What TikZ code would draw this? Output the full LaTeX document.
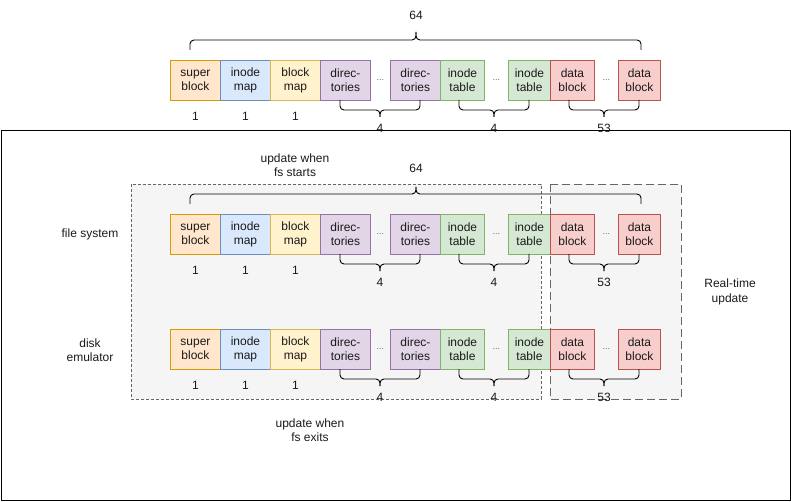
\documentclass[tikz,border=0pt]{standalone}
\usepackage{fontspec}
\setmainfont{Liberation Sans}
\usetikzlibrary{calc}
\begin{document}
\definecolor{orangeF}{HTML}{FFE6CC}\definecolor{orangeS}{HTML}{D79B00}
\definecolor{blueF}{HTML}{DAE8FC}\definecolor{blueS}{HTML}{6C8EBF}
\definecolor{yellowF}{HTML}{FFF2CC}\definecolor{yellowS}{HTML}{D6B656}
\definecolor{purpleF}{HTML}{E1D5E7}\definecolor{purpleS}{HTML}{9673A6}
\definecolor{greenF}{HTML}{D5E8D4}\definecolor{greenS}{HTML}{82B366}
\definecolor{redF}{HTML}{F8CECC}\definecolor{redS}{HTML}{B85450}
\definecolor{grayF}{HTML}{F5F5F5}\definecolor{grayS}{HTML}{666666}
\definecolor{textC}{HTML}{1A1A1A}
\newcommand{\hbrace}[6]{%
  \draw[brace line] (#1,#4) -- (#1,#5) -- (#3,#5) -- (#3,#6);
  \draw[brace line] (#2,#4) -- (#2,#5) -- (#3,#5) -- (#3,#6);}
\begin{tikzpicture}[x=1pt,y=-1pt,
  every node/.style={font=\fontsize{12}{14.5}\selectfont, text=textC},
  blk/.style={draw, line width=0.9pt, minimum height=40pt, inner sep=0pt,
    align=center, anchor=north west, font=\fontsize{12}{14.5}\selectfont},
  sb/.style={blk, fill=orangeF, draw=orangeS},
  im/.style={blk, fill=blueF, draw=blueS},
  bm/.style={blk, fill=yellowF, draw=yellowS},
  dr/.style={blk, fill=purpleF, draw=purpleS},
  it/.style={blk, fill=greenF, draw=greenS},
  db/.style={blk, fill=redF, draw=redS},
  dotsep/.style={text=grayS, font=\fontsize{9}{10}\selectfont},
  brace line/.style={draw=black, line width=0.9pt, rounded corners=4pt},
  lbl/.style={align=center},
  region/.style={fill=grayF, draw=grayS, line width=0.8pt}]
\useasboundingbox (0,0) rectangle (791,502);

% outer frame
\draw[line width=1pt] (1.5,130.5) rectangle (790,500);

% shaded regions
\draw[region, dash pattern=on 3pt off 2pt] (131,184) rectangle (541,399);
\draw[region, dash pattern=on 8pt off 4pt] (550,184) rectangle (681,399);

% one row of blocks: #1 = name prefix, #2 = top y
\newcommand{\blockrow}[2]{%
  \node[sb, minimum width=50pt] (#1sb) at (170,#2) {super\\block};
  \node[im, minimum width=50pt] (#1im) at (220,#2) {inode\\map};
  \node[bm, minimum width=50pt] (#1bm) at (270,#2) {block\\map};
  \node[dr, minimum width=50pt] (#1da) at (320,#2) {direc-\\tories};
  \node[dr, minimum width=50pt] (#1db) at (390,#2) {direc-\\tories};
  \node[it, minimum width=44pt] (#1ta) at (440,#2) {inode\\table};
  \node[it, minimum width=42pt] (#1tb) at (508,#2) {inode\\table};
  \node[db, minimum width=44pt] (#1xa) at (550,#2) {data\\block};
  \node[db, minimum width=42pt] (#1xb) at (618,#2) {data\\block};
  \node[dotsep] (#1d1) at ($(#1da.east)!0.5!(#1db.west)$) {...};
  \node[dotsep] (#1d2) at ($(#1ta.east)!0.5!(#1tb.west)$) {...};
  \node[dotsep] (#1d3) at ($(#1xa.east)!0.5!(#1xb.west)$) {...};
  \node (#1n1) at ($(#1sb.south)+(0,15)$) {1};
  \node (#1n2) at ($(#1im.south)+(0,15)$) {1};
  \node (#1n3) at ($(#1bm.south)+(0,15)$) {1};
  \hbrace{340}{420}{380}{#2+40}{#2+50}{#2+57}
  \hbrace{459}{529}{494}{#2+40}{#2+50}{#2+57}
  \hbrace{569}{639}{604}{#2+40}{#2+50}{#2+57}
  \node (#1c1) at (380,#2+68) {4};
  \node (#1c2) at (494,#2+68) {4};
  \node (#1c3) at (604,#2+68) {53};}

\blockrow{a}{60}
\blockrow{b}{214}
\blockrow{c}{329}

% whole-disk braces
\hbrace{190}{641}{416}{50}{40}{32}
\node (atot) at (416,15) {64};
\hbrace{190}{641}{416}{204}{194}{187}
\node (btot) at (416,168) {64};

% labels
\node[lbl] (fs) at (90,234) {file system};
\node[lbl] (emu) at (90,350) {disk\\emulator};
\node[lbl] (rt) at (730,292) {Real-time\\update};
\node[lbl] (start) at (295,165) {update when\\fs starts};
\node[lbl] (exit) at (310,430) {update when\\fs exits};
\end{tikzpicture}
\end{document}
